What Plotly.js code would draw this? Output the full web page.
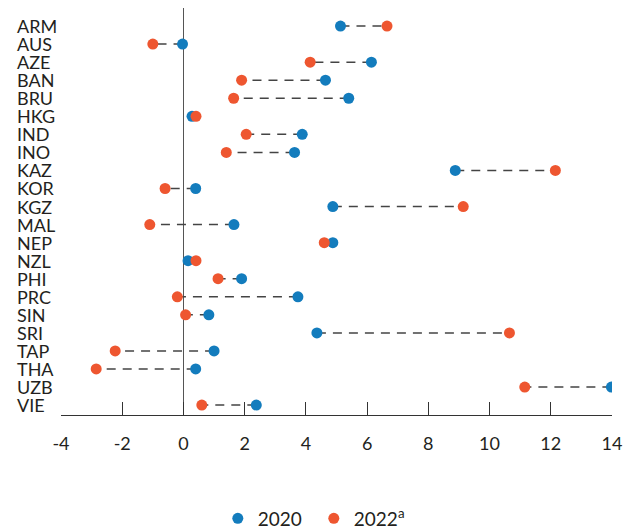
<!DOCTYPE html>
<html>
<head>
<meta charset="utf-8">
<script src="https://cdn.plot.ly/plotly-3.0.1.min.js"></script>
<style>html,body{margin:0;padding:0;background:#fff;}#chart{width:635px;height:529px;}</style>
</head>
<body>
<div id="chart"></div>
<script>
const categories = ["ARM","AUS","AZE","BAN","BRU","HKG","IND","INO","KAZ","KOR","KGZ","MAL","NEP","NZL","PHI","PRC","SIN","SRI","TAP","THA","UZB","VIE"];
const values2020 = [5.13,-0.03,6.14,4.64,5.4,0.28,3.88,3.63,8.88,0.4,4.88,1.65,4.88,0.15,1.9,3.74,0.83,4.36,1.0,0.4,13.98,2.38];
const values2022 = [6.65,-1.0,4.14,1.9,1.64,0.41,2.05,1.4,12.15,-0.6,9.14,-1.1,4.6,0.41,1.13,-0.2,0.07,10.65,-2.23,-2.85,11.15,0.6];
const xTicks = [-4,-2,0,2,4,6,8,10,12,14];
const seriesNames = ["2020","2022<sup>a</sup>"];

const BLUE = "#137cbd", ORANGE = "#ee5630", TEXT = "#231f20", FONT = "Lato, 'Open Sans', sans-serif";

const lx = [], ly = [];
categories.forEach((c, i) => { lx.push(values2020[i], values2022[i], null); ly.push(c, c, null); });

const traces = [
  {x: lx, y: ly, type: "scatter", mode: "lines", line: {color: "#444", width: 1.5, dash: "9px,7px"}, showlegend: false, hoverinfo: "skip"},
  {x: values2020, y: categories, type: "scatter", mode: "markers", name: seriesNames[0], marker: {color: BLUE, size: 11}},
  {x: values2022, y: categories, type: "scatter", mode: "markers", name: seriesNames[1], marker: {color: ORANGE, size: 11}}
];

const annotations = categories.map(c => ({
  x: -0.083, xref: "paper", xanchor: "left", y: c, yref: "y", yanchor: "middle",
  text: c, showarrow: false, font: {family: FONT, size: 18, color: TEXT}
}));

const layout = {
  width: 635, height: 529,
  margin: {l: 61, r: 23, t: 8, b: 114},
  paper_bgcolor: "#fff", plot_bgcolor: "#fff",
  showlegend: true,
  legend: {orientation: "h", xref: "container", yref: "container", x: 0.343, xanchor: "left", y: 0.02, yanchor: "middle",
           font: {family: FONT, size: 19, color: TEXT}, itemwidth: 30, entrywidth: 51},
  xaxis: {range: [-4, 14], tickvals: xTicks, ticktext: xTicks.map(String),
          showgrid: false, zeroline: true, zerolinecolor: "#555", zerolinewidth: 1.2,
          showline: true, linecolor: "#333", linewidth: 1.2,
          ticks: "inside", ticklen: 13, tickcolor: "#333", tickwidth: 1.2,
          tickfont: {family: FONT, size: 18, color: TEXT}, ticklabelstandoff: 12},
  yaxis: {type: "category", categoryorder: "array", categoryarray: categories,
          range: [21.55, -1.0], showgrid: false, zeroline: false, showline: false,
          showticklabels: false, ticks: ""},
  annotations: annotations
};

Plotly.newPlot("chart", traces, layout, {displayModeBar: false, staticPlot: true});
</script>
</body>
</html>
